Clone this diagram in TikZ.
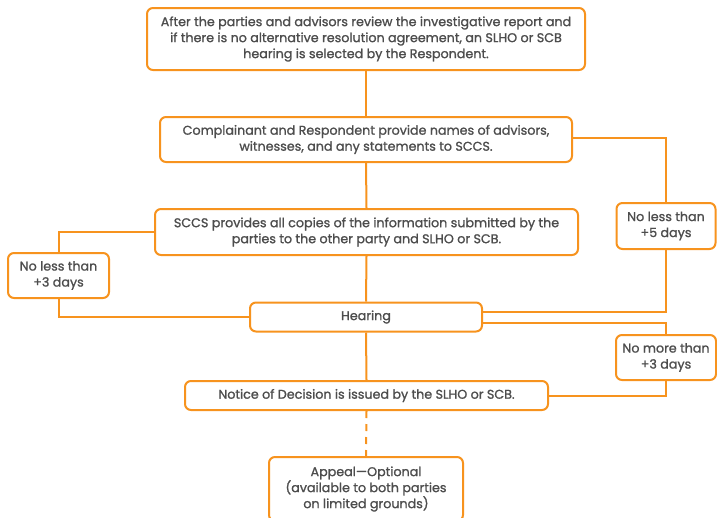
\documentclass[tikz,border=0pt]{standalone}
\usepackage{fontspec}
\setmainfont{Poppins}[UprightFeatures={FakeBold=1.2}]
\definecolor{org}{HTML}{F7931E}
\definecolor{txt}{HTML}{4D4D4D}
\begin{document}
\begin{tikzpicture}[x=1pt,y=-1pt,
  box/.style={draw=org,line width=2pt,rounded corners=6pt,fill=white,align=center,
    text=txt,font=\fontsize{12.7}{16}\selectfont,inner sep=0pt},
  conn/.style={draw=org,line width=2pt}]
\useasboundingbox (0,0) rectangle (717,517);
\node[box,minimum width=438pt,minimum height=62pt] (b1) at (366,39)
  {After the parties and advisors review the investigative report and\\
   if there is no alternative resolution agreement, an SLHO or SCB\\
   hearing is selected by the Respondent.};
\node[box,minimum width=412pt,minimum height=45pt] (b2) at (366,139.5)
  {Complainant and Respondent provide names of advisors,\\
   witnesses, and any statements to SCCS.};
\node[box,minimum width=423pt,minimum height=46pt] (b3) at (366.5,232)
  {SCCS provides all copies of the information submitted by the\\
   parties to the other party and SLHO or SCB.};
\node[box,minimum width=101pt,minimum height=45pt] (l3) at (58.5,275.5)
  {No less than\\ +3 days};
\node[box,minimum width=99pt,minimum height=46pt] (r5) at (666,226)
  {No less than\\ +5 days};
\node[box,minimum width=232pt,minimum height=29pt] (hear) at (366,317)
  {Hearing};
\node[box,minimum width=100pt,minimum height=45pt] (r3) at (666,357.5)
  {No more than\\ +3 days};
\node[box,minimum width=363pt,minimum height=29pt] (note) at (366.5,395.5)
  {Notice of Decision is issued by the SLHO or SCB.};
\node[box,minimum width=194pt,minimum height=64pt] (app) at (366,489)
  {Appeal---Optional\\ (available to both parties\\ on limited grounds)};
\draw[conn] (b1.south) -- (b2.north);
\draw[conn] (b2.south) -- (b3.north);
\draw[conn] (b3.south) -- (hear.north);
\draw[conn] (hear.south) -- (note.north);
\draw[conn,dash pattern=on 7pt off 6pt] (note.south) -- (app.north);
\draw[conn] ([yshift=1.5pt]b2.east) -| (r5.north);
\draw[conn] (r5.south) |- ([yshift=5.5pt]hear.east);
\draw[conn] ([yshift=-5.5pt]hear.east) -| (r3.north);
\draw[conn] (r3.south) |- (note.east);
\draw[conn] (b3.west) -| (l3.north);
\draw[conn] (l3.south) |- (hear.west);
\end{tikzpicture}
\end{document}
